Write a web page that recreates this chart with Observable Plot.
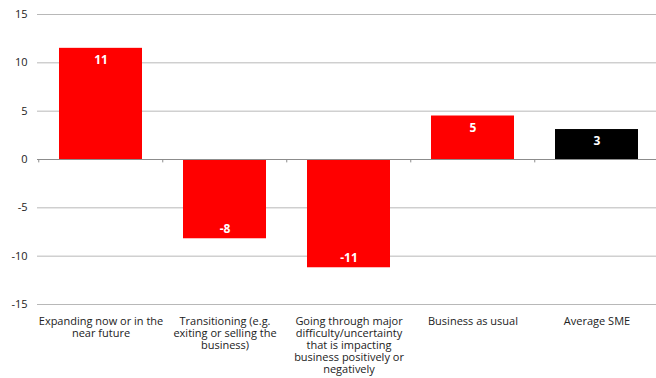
<!DOCTYPE html>
<html>
<head>
<meta charset="utf-8">
<script src="https://cdn.jsdelivr.net/npm/d3@7"></script>
<script src="https://cdn.jsdelivr.net/npm/@observablehq/plot@0.6"></script>
<style>
  html, body { margin: 0; padding: 0; background: #fff; overflow: hidden; }
  #chart svg { display: block; }
</style>
</head>
<body>
<div id="chart"></div>
<script>
const categories = [
  "Expanding now or in the\nnear future",
  "Transitioning (e.g.\nexiting or selling the\nbusiness)",
  "Going through major\ndifficulty/uncertainty\nthat is impacting\nbusiness positively or\nnegatively",
  "Business as usual",
  "Average SME"
];
const values = [11.5, -8.2, -11.2, 4.5, 3.1];
const valueLabels = ["11", "-8", "-11", "5", "3"];
const barColors = ["#ff0000", "#ff0000", "#ff0000", "#ff0000", "#000000"];
const yTicks = [-15, -10, -5, 0, 5, 10, 15];

const data = categories.map((c, i) => ({cat: c, value: values[i], label: valueLabels[i], color: barColors[i]}));

const font = "'Open Sans', sans-serif";
const W = 656;
const plotLeft = 37.25, plotRight = 659.75;
const step = (plotRight - plotLeft) / categories.length;

const chart = Plot.plot({
  width: W,
  height: 378,
  marginTop: 14,
  marginBottom: 74,
  marginLeft: 37,
  marginRight: 0,
  style: {fontFamily: font, fontSize: "11px", color: "#222", background: "#fff", overflow: "hidden"},
  x: {domain: categories, range: [plotLeft, plotRight], paddingInner: 0.333, paddingOuter: 0.1665, label: null},
  y: {domain: [-15, 15], ticks: yTicks, label: null},
  marks: [
    Plot.gridY(yTicks, {stroke: "#b8b8b8", strokeOpacity: 1, strokeWidth: 1}),
    Plot.axisY(yTicks, {tickSize: 0, tickPadding: 10, fontSize: 11, fill: "#222", label: null, tickFormat: d => String(d)}),
    Plot.barY(data, {x: "cat", y: "value", fill: "color"}),
    Plot.ruleY([0], {stroke: "#8c8c8c", strokeWidth: 1}),
    Plot.ruleX(categories, {x: d => d, y1: 0, y2: -0.35, dx: -step / 2, stroke: "#8c8c8c", strokeWidth: 1}),
    Plot.text(data.filter(d => d.value >= 0), {x: "cat", y: "value", text: "label", dy: 12, fill: "#fff", fontWeight: "bold", fontSize: 12}),
    Plot.text(data.filter(d => d.value < 0), {x: "cat", y: "value", text: "label", dy: -10, fill: "#fff", fontWeight: "bold", fontSize: 12}),
    Plot.axisX({anchor: "bottom", tickSize: 0, tickPadding: 12, fontSize: 11, lineHeight: 1.09, fill: "#222", label: null})
  ]
});

document.getElementById("chart").appendChild(chart);
</script>
</body>
</html>
